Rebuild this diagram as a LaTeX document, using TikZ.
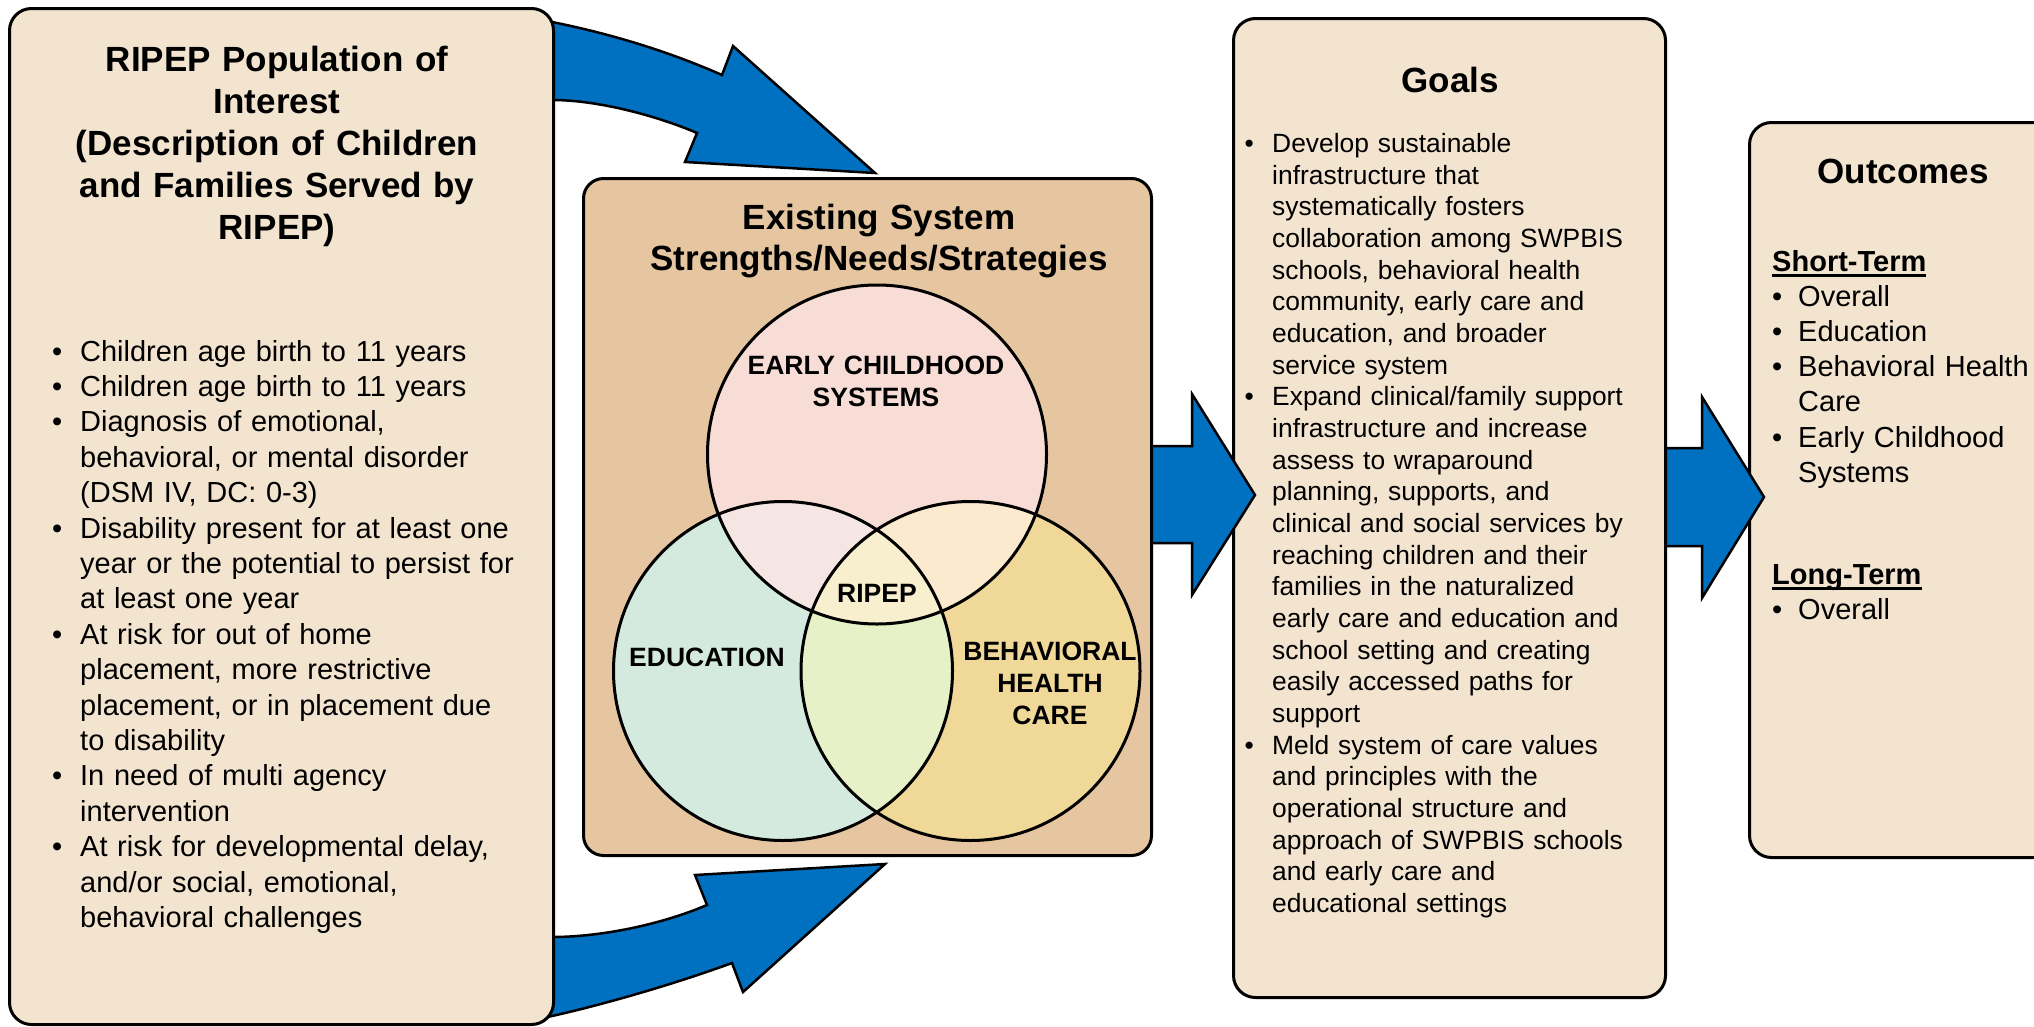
\documentclass[tikz,border=0pt]{standalone}
\usepackage{fontspec}
\setmainfont{Liberation Sans}
\definecolor{boxfill}{HTML}{F3E4D0}
\definecolor{midfill}{HTML}{E6C6A0}
\definecolor{arrowblue}{HTML}{0070C0}
\definecolor{vecs}{HTML}{F8DDD6}
\definecolor{vedu}{HTML}{D4EADF}
\definecolor{vbeh}{HTML}{F0D898}
\definecolor{vte}{HTML}{F5E5E3}
\definecolor{vtb}{HTML}{FBEACD}
\definecolor{veb}{HTML}{E6F1C8}
\definecolor{vall}{HTML}{F8EFCE}
\newcommand\myitem[2]{\noindent\hangindent=#1\hangafter=1\makebox[#1][l]{\textbullet}#2\par}
\newcommand\myul[1]{\setbox0=\hbox{#1}\rlap{\rule[-5.5pt]{\wd0}{3pt}}\box0}
\begin{document}
\begin{tikzpicture}[x=1pt,y=-1pt,
  panel/.style={draw=black, line width=3pt, rounded corners=22pt, fill=boxfill, inner sep=0pt, anchor=north west},
  blockarrow/.style={fill=arrowblue, draw=black, line width=2.5pt, line join=miter},
  vennline/.style={draw=black, line width=3pt},
  listtext/.style={anchor=base west, inner sep=0pt, align=left},
  titletext/.style={anchor=base, inner sep=0pt, align=center, font=\bfseries\fontsize{35}{42}\selectfont},
  venntext/.style={anchor=base, inner sep=0pt, align=center, text width=300pt, font=\bfseries\fontsize{26.5}{32}\selectfont}]
\clip (0,0) rectangle (2034,1026);
\fill[white] (0,0) rectangle (2034,1026);
% outcomes box
\node[panel, minimum width=352pt, minimum height=735pt] (outbox) at (1748,121) {};
% arrow goals -> outcomes
\draw[blockarrow] (1655,448) -- (1702,448) -- (1702,397) -- (1764,497) -- (1702,598) -- (1702,546) -- (1655,546) -- cycle;
% goals box
\node[panel, minimum width=432pt, minimum height=979pt] (goalbox) at (1232,17) {};
% arrow middle -> goals
\draw[blockarrow] (1140,446) -- (1192,446) -- (1192,394) -- (1255,495) -- (1192,595) -- (1192,543) -- (1140,543) -- cycle;
% middle box
\node[panel, fill=midfill, minimum width=568pt, minimum height=677pt, rounded corners=20pt] (midbox) at (582,177) {};
% Venn
\coordinate (cT) at (877,454.5);
\coordinate (cE) at (783,671);
\coordinate (cB) at (970.5,671);
\fill[vecs] (cT) circle[radius=169.5pt];
\fill[vedu] (cE) circle[radius=169.5pt];
\fill[vbeh] (cB) circle[radius=169.5pt];
\begin{scope}\clip (cT) circle[radius=169.5pt]; \fill[vte] (cE) circle[radius=169.5pt]; \end{scope}
\begin{scope}\clip (cT) circle[radius=169.5pt]; \fill[vtb] (cB) circle[radius=169.5pt]; \end{scope}
\begin{scope}\clip (cE) circle[radius=169.5pt]; \fill[veb] (cB) circle[radius=169.5pt]; \end{scope}
\begin{scope}\clip (cT) circle[radius=169.5pt]; \clip (cE) circle[radius=169.5pt]; \fill[vall] (cB) circle[radius=169.5pt]; \end{scope}
\draw[vennline] (cT) circle[radius=169.5pt];
\draw[vennline] (cE) circle[radius=169.5pt];
\draw[vennline] (cB) circle[radius=169.5pt];
% curved arrows
\draw[blockarrow] (540,20) -- (552,22) .. controls (612,34) and (670,52) .. (722,75)
  -- (733,46) -- (875,173) -- (685,162) -- (697,133)
  .. controls (660,117) and (600,100) .. (552,100) -- (540,100) -- cycle;
\draw[blockarrow] (540,937) -- (552,937) .. controls (600,937) and (660,925) .. (707,905)
  -- (695,875) -- (885,864) -- (743,992) -- (732,963)
  .. controls (680,982) and (610,1003) .. (552,1016) -- (540,1019) -- cycle;
% left box
\node[panel, minimum width=544pt, minimum height=1016pt] (popbox) at (8,7) {};
% texts
\node[titletext, text width=520pt] (poptitle) at (277,71) {RIPEP Population of\\Interest\\(Description of Children\\and Families Served by\\RIPEP)};
\node[listtext, text width=480pt, font=\fontsize{29}{35.4}\selectfont] (poplist) at (52,361) {%
\myitem{28pt}{Children age birth to 11 years}%
\myitem{28pt}{Children age birth to 11 years}%
\myitem{28pt}{Diagnosis of emotional,\newline behavioral, or mental disorder\newline (DSM IV, DC: 0-3)}%
\myitem{28pt}{Disability present for at least one\newline year or the potential to persist for\newline at least one year}%
\myitem{28pt}{At risk for out of home\newline placement, more restrictive\newline placement, or in placement due\newline to disability}%
\myitem{28pt}{In need of multi agency\newline intervention}%
\myitem{28pt}{At risk for developmental delay,\newline and/or social, emotional,\newline behavioral challenges}};
\node[titletext, font=\bfseries\fontsize{35}{41}\selectfont, text width=560pt] (midtitle) at (879,229) {Existing System\\Strengths/Needs/Strategies};
\node[venntext] (vecstext) at (876,374) {EARLY CHILDHOOD\\SYSTEMS};
\node[venntext] (vripep) at (877,602) {RIPEP};
\node[venntext] (vedutext) at (707,666) {EDUCATION};
\node[venntext, text width=200pt] (vbehtext) at (1050,660) {BEHAVIORAL\\HEALTH\\CARE};
\node[titletext, text width=400pt] (goaltitle) at (1450,92) {Goals};
\node[listtext, text width=410pt, font=\fontsize{26.4}{31.67}\selectfont] (goallist) at (1244.4,152.5) {%
\myitem{27.6pt}{Develop sustainable\newline infrastructure that\newline systematically fosters\newline collaboration among SWPBIS\newline schools, behavioral health\newline community, early care and\newline education, and broader\newline service system}%
\myitem{27.6pt}{Expand clinical/family support\newline infrastructure and increase\newline assess to wraparound\newline planning, supports, and\newline clinical and social services by\newline reaching children and their\newline families in the naturalized\newline early care and education and\newline school setting and creating\newline easily accessed paths for\newline support}%
\myitem{27.6pt}{Meld system of care values\newline and principles with the\newline operational structure and\newline approach of SWPBIS schools\newline and early care and\newline educational settings}};
\node[titletext, text width=300pt] (outtitle) at (1903,183) {Outcomes};
\node[listtext, text width=300pt, font=\fontsize{29}{35.2}\selectfont] (shortlist) at (1772,271) {%
\noindent\myul{\bfseries Short-Term}\par
\myitem{26pt}{Overall}%
\myitem{26pt}{Education}%
\myitem{26pt}{Behavioral Health\newline Care}%
\myitem{26pt}{Early Childhood\newline Systems}};
\node[listtext, text width=300pt, font=\fontsize{29}{35.2}\selectfont] (longlist) at (1772,584) {%
\noindent\myul{\bfseries Long-Term}\par
\myitem{26pt}{Overall}};
\end{tikzpicture}
\end{document}
